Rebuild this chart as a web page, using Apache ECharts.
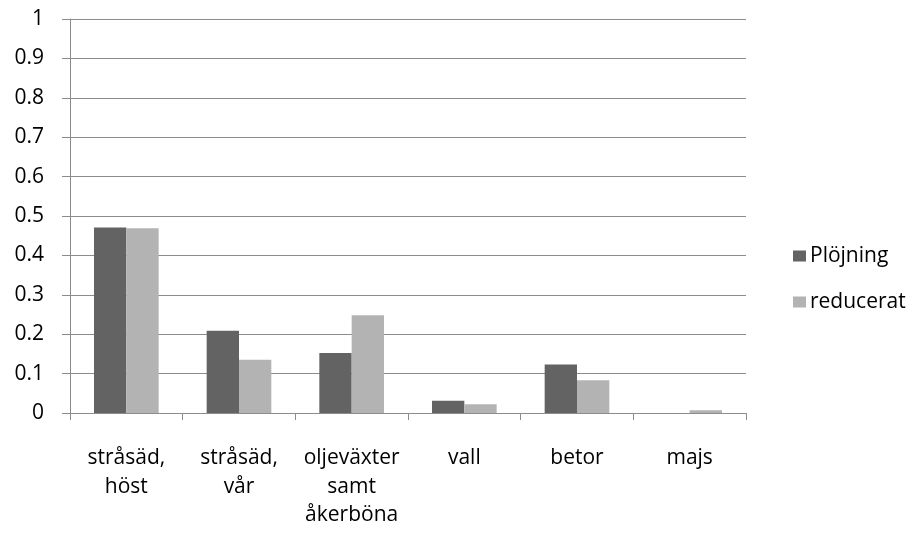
<!DOCTYPE html>
<html><head><meta charset="utf-8">
<script src="https://cdn.jsdelivr.net/npm/echarts@6/dist/echarts.min.js"></script>
<style>html,body{margin:0;padding:0;background:#fff}#c{width:917px;height:534px}</style>
</head><body><div id="c"></div>
<script>
const categories = ['stråsäd,\nhöst', 'stråsäd,\nvår', 'oljeväxter\nsamt\nåkerböna', 'vall', 'betor', 'majs'];
const plojning = [0.471, 0.209, 0.152, 0.031, 0.123, 0];
const reducerat = [0.469, 0.135, 0.248, 0.022, 0.083, 0.007];
const seriesNames = ['Plöjning', 'reducerat'];
const yTicks = {min: 0, max: 1, interval: 0.1};

const font = 'Open Sans';
const chart = echarts.init(document.getElementById('c'), null, {renderer: 'canvas'});
chart.setOption({
  animation: false,
  textStyle: {fontFamily: font},
  grid: {left: 70, right: 171, top: 19, bottom: 121, containLabel: false},
  legend: {
    orient: 'vertical', left: 788, top: 240,
    itemWidth: 13, itemHeight: 11, itemGap: 24, icon: 'rect',
    textStyle: {fontFamily: font, fontSize: 21, lineHeight: 22, color: '#000', padding: [0, 0, 0, -1]},
    data: seriesNames
  },
  xAxis: {
    type: 'category', data: categories,
    axisLine: {lineStyle: {color: '#8c8c8c', width: 1}},
    axisTick: {show: true, length: 7, lineStyle: {color: '#8c8c8c'}, alignWithLabel: false},
    axisLabel: {color: '#000', fontSize: 21, lineHeight: 28.5, margin: 31, interval: 0, fontFamily: font}
  },
  yAxis: {
    type: 'value', min: yTicks.min, max: yTicks.max, interval: yTicks.interval,
    axisLine: {show: true, lineStyle: {color: '#8c8c8c'}},
    axisTick: {show: true, length: 8, lineStyle: {color: '#8c8c8c'}},
    splitLine: {show: true, lineStyle: {color: '#8c8c8c', width: 1}},
    axisLabel: {color: '#000', fontSize: 21, margin: 26, fontFamily: font,
      formatter: v => String(Math.round(v * 10) / 10)}
  },
  series: [
    {name: seriesNames[0], type: 'bar', data: plojning, itemStyle: {color: '#636363'}, barGap: '0%', barCategoryGap: '42.6%'},
    {name: seriesNames[1], type: 'bar', data: reducerat, itemStyle: {color: '#b3b3b3'}, barGap: '0%', barCategoryGap: '42.6%'}
  ]
});
</script></body></html>
